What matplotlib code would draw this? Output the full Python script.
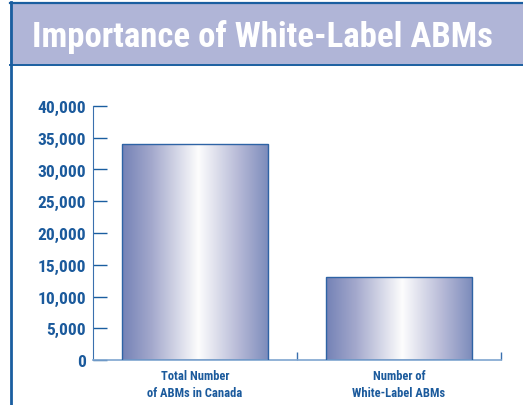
import numpy as np
import matplotlib
matplotlib.use("Agg")
import matplotlib.pyplot as plt
from matplotlib.colors import LinearSegmentedColormap
from matplotlib.patches import Rectangle

categories = ["Total Number\nof ABMs in Canada", "Number of\nWhite-Label ABMs"]
values = [34000, 13000]
yticks = [0, 5000, 10000, 15000, 20000, 25000, 30000, 35000, 40000]
ytick_labels = ["0", "5,000", "10,000", "15,000", "20,000", "25,000", "30,000", "35,000", "40,000"]
title = "Importance of White-Label ABMs"

dark_blue = "#1b5a9c"
fnt = ["Roboto Condensed", "Roboto", "DejaVu Sans"]

fig = plt.figure(figsize=(5.23, 4.06), dpi=100)
W, H = 523, 406

# frame: title band, top line, left line
fig.patches.append(Rectangle((10 / W, 1 - 65 / H), 1 - 10 / W, 61 / H, transform=fig.transFigure,
                             facecolor="#b0b5d7", edgecolor="none", zorder=0))
fig.add_artist(plt.Line2D([10 / W, 1], [1 - 3.5 / H, 1 - 3.5 / H], color="#1a5ea0", lw=1.6))
fig.add_artist(plt.Line2D([10 / W, 1], [1 - 65.5 / H, 1 - 65.5 / H], color="#1a5ea0", lw=1.4))
fig.add_artist(plt.Line2D([10.5 / W, 10.5 / W], [0, 1 - 3 / H], color="#1a5ea0", lw=2))
fig.text(262.5 / W, 1 - 37 / H, title, color="white", fontsize=25, fontweight="bold",
         family=fnt, ha="center", va="center")

ax = fig.add_axes([93 / W, 1 - 361 / H, 408 / W, 254 / H])

cmap = LinearSegmentedColormap.from_list("bar", [(0, "#7482b6"), (0.2, "#a3a8cc"), (0.52, "#fdfdfd"),
                                                 (0.8, "#b5b8d6"), (1, "#7b8bbb")])
grad = np.linspace(0, 1, 256).reshape(1, -1)
bars = ax.bar(range(len(values)), values, width=0.72, facecolor="none", edgecolor="#2e63a5", lw=1, zorder=3)
for b in bars:
    x0, y0, w, h = b.get_x(), b.get_y(), b.get_width(), b.get_height()
    im = ax.imshow(grad, cmap=cmap, aspect="auto", extent=(x0, x0 + w, y0, y0 + h), zorder=2)
    im.set_clip_path(b)
ax.set_xlim(-0.5, 1.5)
ax.set_ylim(0, 40000)

for s in ["top", "right"]:
    ax.spines[s].set_visible(False)
ax.spines["left"].set_color("#3a70ae")
ax.spines["bottom"].set_color("#7fa6d0")
ax.spines["bottom"].set_linewidth(1.2)

ax.set_yticks(yticks)
ax.set_yticklabels(ytick_labels)
ax.tick_params(axis="y", direction="in", length=10, color="#1a5ea0", width=1, pad=5,
               labelsize=12.5, labelcolor=dark_blue)
for t in ax.get_yticklabels():
    t.set_fontweight("bold")
    t.set_family(fnt)

ax.set_xticks([0.5, 1.5])
ax.set_xticklabels([])
ax.tick_params(axis="x", direction="in", length=6, color="#3a70ae", width=1)
for i, c in enumerate(categories):
    ax.text(i, -0.035, c, transform=ax.get_xaxis_transform(), ha="center", va="top",
            fontsize=9, fontweight="bold", color=dark_blue, family=fnt, linespacing=1.4)

fig.savefig("out.png", dpi=100)
